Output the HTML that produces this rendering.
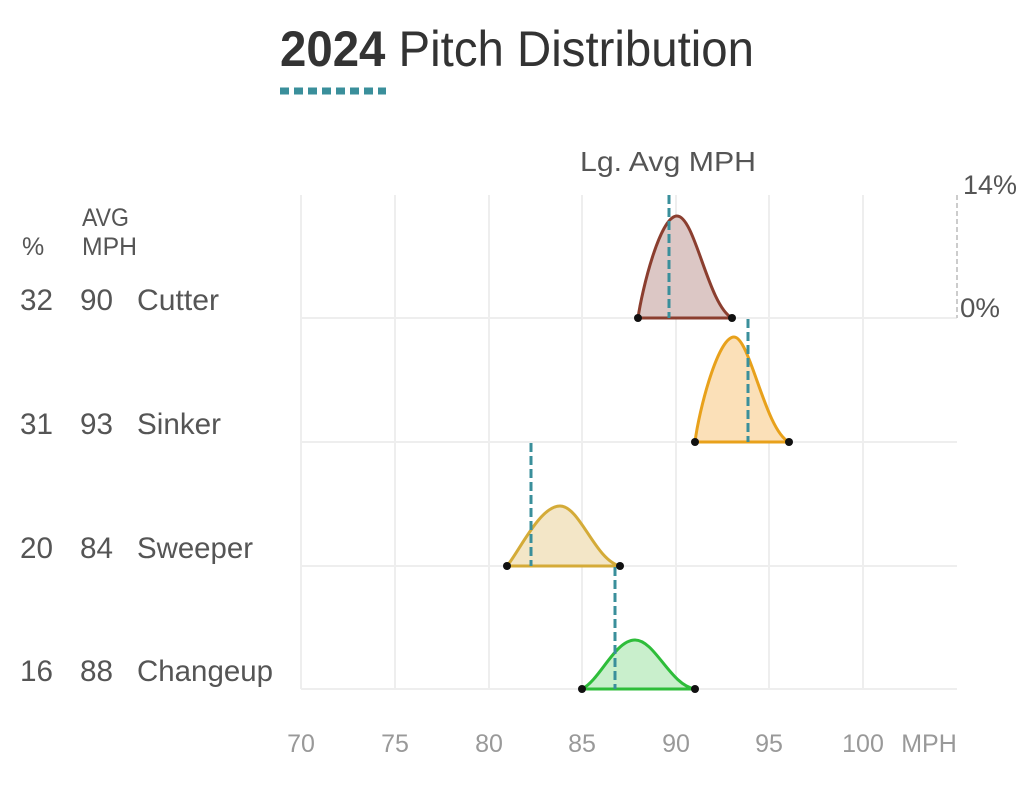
<!DOCTYPE html>
<html><head><meta charset="utf-8"><style>
body{margin:0;background:#fff;width:1024px;height:780px;overflow:hidden;font-family:"Liberation Sans",sans-serif;}
</style></head><body>
<svg width="1024" height="780" xmlns="http://www.w3.org/2000/svg" font-family="Liberation Sans, sans-serif">
<text x="280" y="66" font-size="50" fill="#333" textLength="474" lengthAdjust="spacingAndGlyphs"><tspan font-weight="bold">2024</tspan> Pitch Distribution</text>
<line x1="280" y1="91" x2="386" y2="91" stroke="#3a8f9b" stroke-width="7" stroke-dasharray="9,5"/>
<g stroke="#eee" stroke-width="2">
<line x1="301" y1="195" x2="301" y2="689"/><line x1="395" y1="195" x2="395" y2="689"/><line x1="489" y1="195" x2="489" y2="689"/><line x1="582" y1="195" x2="582" y2="689"/><line x1="676" y1="195" x2="676" y2="689"/><line x1="769" y1="195" x2="769" y2="689"/><line x1="863" y1="195" x2="863" y2="689"/>
<line x1="301" y1="318" x2="957" y2="318"/><line x1="301" y1="442" x2="957" y2="442"/><line x1="301" y1="566" x2="957" y2="566"/><line x1="301" y1="689" x2="957" y2="689"/>
</g>
<line x1="957" y1="195" x2="957" y2="318" stroke="#ccc" stroke-width="2" stroke-dasharray="5,3"/>
<text x="963" y="194" font-size="27" fill="#555" textLength="54" lengthAdjust="spacingAndGlyphs">14%</text>
<text x="960" y="317" font-size="27" fill="#555" textLength="40" lengthAdjust="spacingAndGlyphs">0%</text>
<text x="580" y="171" font-size="28" fill="#555" textLength="176" lengthAdjust="spacingAndGlyphs">Lg. Avg MPH</text>
<path d="M638,318 C642,290 660,216 677,216 C695,216 708,305 732,318 Z" fill="#dcc7c5" stroke="#8b3e2f" stroke-width="3"/>
<path d="M695,442 C699,410 718,337 734,337 C750,337 765,430 789,442 Z" fill="#fbe0b8" stroke="#e8a11b" stroke-width="3"/>
<path d="M507,566 C520,550 540,506 560,506 C580,506 595,560 620,566 Z" fill="#f3e6c7" stroke="#d4ab38" stroke-width="3"/>
<path d="M582,689 C600,680 615,640 635,640 C655,640 670,685 695,689 Z" fill="#c9efcc" stroke="#2ebd3a" stroke-width="3"/>
<g stroke="#3a8f9b" stroke-width="3" stroke-dasharray="9,4">
<line x1="669" y1="195" x2="669" y2="318"/><line x1="748" y1="319" x2="748" y2="442"/><line x1="531" y1="443" x2="531" y2="566"/><line x1="615" y1="567" x2="615" y2="689"/>
</g>
<g fill="#111"><circle cx="638" cy="318" r="4"/><circle cx="732" cy="318" r="4"/><circle cx="695" cy="442" r="4"/><circle cx="789" cy="442" r="4"/><circle cx="507" cy="566" r="4"/><circle cx="620" cy="566" r="4"/><circle cx="582" cy="689" r="4"/><circle cx="695" cy="689" r="4"/></g>
<g font-size="25" fill="#555">
<text x="22" y="255">%</text>
<text x="82" y="226" textLength="47" lengthAdjust="spacingAndGlyphs">AVG</text>
<text x="82" y="255" textLength="55" lengthAdjust="spacingAndGlyphs">MPH</text>
</g>
<g font-size="30" fill="#555">
<text x="20" y="310" textLength="33" lengthAdjust="spacingAndGlyphs">32</text><text x="80" y="310" textLength="33" lengthAdjust="spacingAndGlyphs">90</text><text x="137" y="310" textLength="82" lengthAdjust="spacingAndGlyphs">Cutter</text>
<text x="20" y="434" textLength="33" lengthAdjust="spacingAndGlyphs">31</text><text x="80" y="434" textLength="33" lengthAdjust="spacingAndGlyphs">93</text><text x="137" y="434" textLength="84" lengthAdjust="spacingAndGlyphs">Sinker</text>
<text x="20" y="558" textLength="33" lengthAdjust="spacingAndGlyphs">20</text><text x="80" y="558" textLength="33" lengthAdjust="spacingAndGlyphs">84</text><text x="137" y="558" textLength="116" lengthAdjust="spacingAndGlyphs">Sweeper</text>
<text x="20" y="681" textLength="33" lengthAdjust="spacingAndGlyphs">16</text><text x="80" y="681" textLength="33" lengthAdjust="spacingAndGlyphs">88</text><text x="137" y="681" textLength="136" lengthAdjust="spacingAndGlyphs">Changeup</text>
</g>
<g font-size="25" fill="#999" text-anchor="middle">
<text x="301" y="752">70</text><text x="395" y="752">75</text><text x="489" y="752">80</text><text x="582" y="752">85</text><text x="676" y="752">90</text><text x="769" y="752">95</text><text x="863" y="752">100</text><text x="929" y="752">MPH</text>
</g>
</svg>
</body></html>
